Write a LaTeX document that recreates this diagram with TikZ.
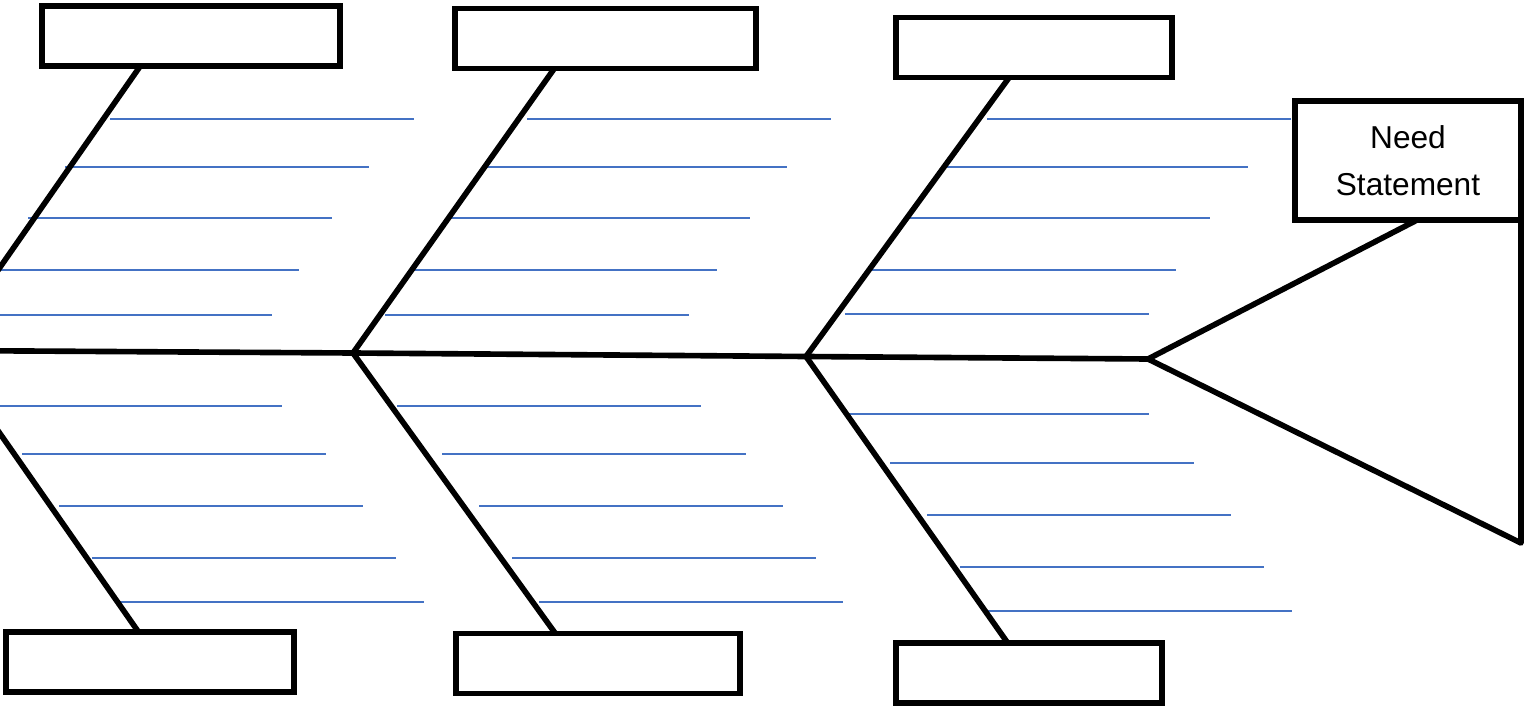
\documentclass[tikz,border=0pt]{standalone}
\usepackage{fontspec}
\setmainfont{Liberation Sans}
\usetikzlibrary{calc}
\definecolor{ribblue}{RGB}{68,114,196}
\tikzset{
  catbox/.style={draw,line width=1.5pt,minimum height=0.6cm,inner sep=0pt,outer sep=0pt},
  needbox/.style={draw,line width=1.5pt,minimum width=2.26cm,minimum height=1.19cm,inner sep=0pt,outer sep=0pt,align=center,font=\fontsize{9}{13.4}\selectfont},
  bone/.style={line width=1.6pt,line join=round},
  rib/.style={ribblue,line width=0.6pt}
}
\begin{document}
\begin{tikzpicture}[x=0.01cm,y=-0.01cm]
  \useasboundingbox (0,0) rectangle (1526,706); \clip (0,0) rectangle (1526,706);
  \node[catbox,minimum width=2.98cm] (c1) at (191,36) {}; \node[catbox,minimum width=3.01cm] (c2) at (605.5,38.5) {};
  \node[catbox,minimum width=2.76cm] (c3) at (1034,47.5) {};
  \node[catbox,minimum width=2.88cm] (c4) at (150,662) {}; \node[catbox,minimum width=2.84cm] (c5) at (598,663.5) {};
  \node[catbox,minimum width=2.66cm] (c6) at (1029,673) {};
  \node[needbox] (need) at (1408,160.5) {Need\\Statement};
  \coordinate (j0) at (-58,350.5); \coordinate (j1) at (353,353); \coordinate (j2) at (806,356.5); \coordinate (head) at (1148,359);
  \coordinate (hb) at (1521,543);
  \foreach \x/\y in {110/119,65/167,28/218,-5/270,-32/315, 527/119,483/167,446/218,413/270,385/315, 987/119,944/167,906/218,872/270,845/314,
    -22/406,22/454,59/506,92/558,120/602, 397/406,442/454,479/506,512/558,539/602, 845/414,890/463,927/515,960/567,988/611}
    \draw[rib] (\x,\y) -- ++(304,0);
  \draw[bone] (j0) -- (j1) -- (j2) -- (head);
  \draw[bone] (j0) -- ($(c1.south west)!0.33!(c1.south east)$); \draw[bone] (j0) -- ($(c4.north west)!0.46!(c4.north east)$);
  \draw[bone] (j1) -- ($(c2.south west)!0.33!(c2.south east)$); \draw[bone] (j1) -- ($(c5.north west)!0.35!(c5.north east)$);
  \draw[bone] (j2) -- ($(c3.south west)!0.41!(c3.south east)$); \draw[bone] (j2) -- ($(c6.north west)!0.42!(c6.north east)$);
  \draw[bone] ($(need.south west)!0.54!(need.south east)$) -- (head) -- (hb) -- (need.east);
\end{tikzpicture}
\end{document}
